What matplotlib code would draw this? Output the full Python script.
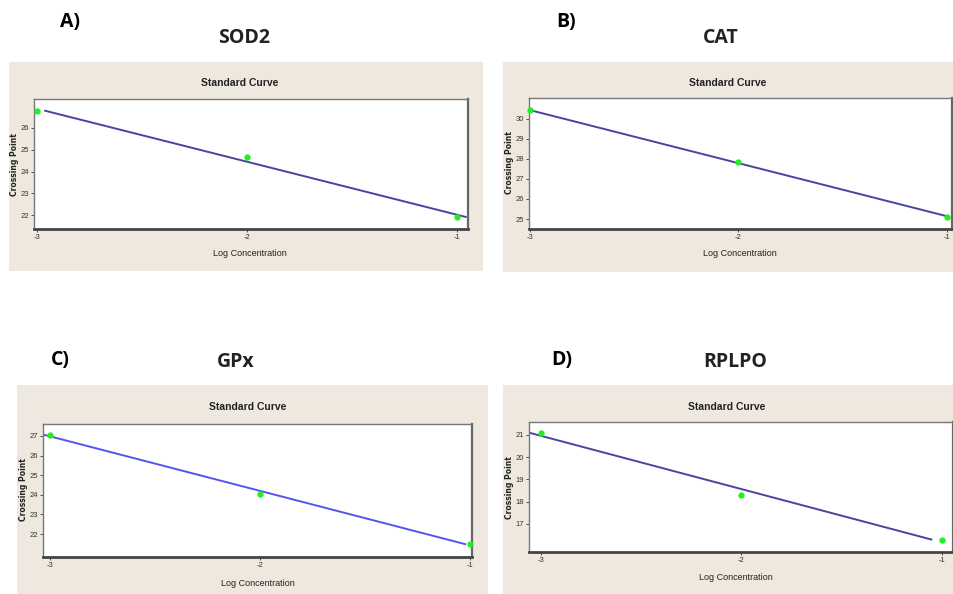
import numpy as np
import matplotlib
matplotlib.use('Agg')
import matplotlib.pyplot as plt
from matplotlib.patches import Rectangle

# qPCR standard curves: crossing point vs log concentration
log_conc = [-3, -2, -1]
sod2_cp = [26.79, 24.65, 21.92]
cat_cp = [30.43, 27.83, 25.12]
gpx_cp = [27.05, 24.05, 21.49]
rplpo_cp = [21.08, 18.31, 16.30]

panel_letters = ['A)', 'B)', 'C)', 'D)']
gene_names = ['SOD2', 'CAT', 'GPx', 'RPLPO']
sod2_ticks = [22, 23, 24, 25, 26]
cat_ticks = [25, 26, 27, 28, 29, 30]
gpx_ticks = [22, 23, 24, 25, 26, 27]
rplpo_ticks = [17, 18, 19, 20, 21]

W, H = 954, 594
fig = plt.figure(figsize=(W / 100, H / 100), dpi=100)
fig.patch.set_facecolor('white')

narrow = ['Liberation Sans Narrow', 'Liberation Sans', 'DejaVu Sans']
bg = '#EEE8DF'


def box(x0, y0, x1, y1):
    # pixel box (top-left origin) -> figure fraction rect
    return [x0 / W, 1 - y1 / H, (x1 - x0) / W, (y1 - y0) / H]


# per panel: background, axes, letter pos, gene pos, title/xlabel/ylabel pos, limits, fit range, line colour
panels = [
    dict(bg=(9, 62, 483, 271), ax=(34, 99, 468, 229), letter=(70, 22), gene=(244, 38),
         title=(240, 83), xlab=(250, 254), ylab=(15, 165),
         xlim=(-3.013, -0.946), ylim=(21.36, 27.33), fit=(-2.96, -0.957),
         cp=sod2_cp, ticks=sod2_ticks, color='#4646A0'),
    dict(bg=(503, 62, 954, 272), ax=(529, 98, 952, 229), letter=(566, 22), gene=(721, 38),
         title=(728, 83), xlab=(740, 253), ylab=(509, 163),
         xlim=(-3.003, -0.976), ylim=(24.5, 31.05), fit=(-3.0, -1.0),
         cp=cat_cp, ticks=cat_ticks, color='#4646A0'),
    dict(bg=(17, 385, 488, 594), ax=(43, 424, 472, 557), letter=(60, 360), gene=(236, 362),
         title=(248, 407), xlab=(258, 584), ylab=(24, 490),
         xlim=(-3.035, -0.992), ylim=(20.83, 27.61), fit=(-3.03, -1.024),
         cp=gpx_cp, ticks=gpx_ticks, color='#5555EE'),
    dict(bg=(503, 385, 954, 594), ax=(529, 422, 953, 552), letter=(562, 360), gene=(735, 362),
         title=(727, 407), xlab=(736, 578), ylab=(509, 488),
         xlim=(-3.058, -0.945), ylim=(15.74, 21.57), fit=(-3.053, -1.053),
         cp=rplpo_cp, ticks=rplpo_ticks, color='#4646A0'),
]

for letter, gene, p in zip(panel_letters, gene_names, panels):
    x0, y0, x1, y1 = p['bg']
    fig.patches.append(Rectangle((x0 / W, 1 - y1 / H), (x1 - x0) / W, (y1 - y0) / H,
                                 transform=fig.transFigure, facecolor=bg,
                                 edgecolor='none', zorder=-5))

    fig.text(p['letter'][0] / W, 1 - p['letter'][1] / H, letter, family='Open Sans',
             fontweight='bold', fontsize=14, ha='center', va='center')
    fig.text(p['gene'][0] / W, 1 - p['gene'][1] / H, gene, family='Open Sans',
             fontweight='bold', fontsize=14, ha='center', va='center', color='#222222')
    fig.text(p['title'][0] / W, 1 - p['title'][1] / H, 'Standard Curve', family=narrow,
             fontweight='bold', fontsize=7.5, ha='center', va='center', color='#222222')
    fig.text(p['xlab'][0] / W, 1 - p['xlab'][1] / H, 'Log Concentration', family=narrow,
             fontsize=6.5, ha='center', va='center', color='#222222')
    fig.text(p['ylab'][0] / W, 1 - p['ylab'][1] / H, 'Crossing Point', family='DejaVu Sans',
             fontweight='bold', fontsize=5.5, rotation=90, ha='center', va='center',
             color='#222222')

    ax = fig.add_axes(box(*p['ax']))
    ax.set_facecolor('white')
    ax.set_xlim(*p['xlim'])
    ax.set_ylim(*p['ylim'])

    # least squares standard curve through the three dilutions
    slope, icpt = np.polyfit(log_conc, p['cp'], 1)
    xf = np.array(p['fit'])
    ax.plot(xf, slope * xf + icpt, color=p['color'], lw=1.4, zorder=2)
    ax.plot(log_conc, p['cp'], 'o', color='#22EE22', ms=3.5, mec='#22EE22',
            zorder=3, clip_on=False)

    ax.set_xticks(log_conc)
    ax.set_xticklabels([str(v) for v in log_conc])
    ax.set_yticks(p['ticks'])
    ax.set_yticklabels([str(v) for v in p['ticks']])
    ax.tick_params(length=2.5, width=0.6, pad=1, labelsize=5.5, colors='#333333')
    for lbl in ax.get_xticklabels() + ax.get_yticklabels():
        lbl.set_family(narrow)

    for side in ['left', 'top']:
        ax.spines[side].set_color('#777777')
        ax.spines[side].set_linewidth(1.0)
    ax.spines['right'].set_color('#666666')
    ax.spines['right'].set_linewidth(1.6)
    ax.spines['bottom'].set_color('#444444')
    ax.spines['bottom'].set_linewidth(2.0)

fig.savefig('out.png', dpi=100)
